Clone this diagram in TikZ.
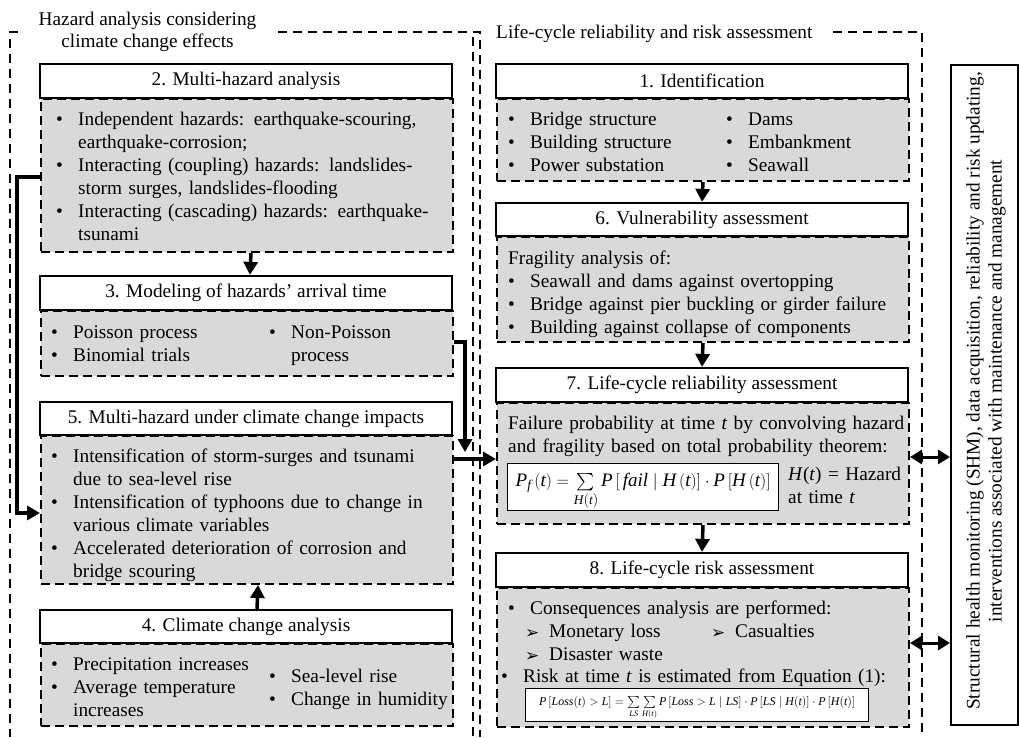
\documentclass[tikz,border=0pt]{standalone}
\usepackage{amsmath}
\usepackage{fontspec}
\setmainfont{Liberation Serif}
\newfontfamily\hzsym{DejaVu Sans}
\usetikzlibrary{arrows.meta,calc}
\definecolor{panelgrey}{RGB}{217,217,217}
% list helpers: bullet box, arrow-bullet box, hanging indent
\newcommand{\hzbul}[1][22pt]{\makebox[#1][l]{•}}
\newcommand{\hzarr}[1][24pt]{\makebox[#1][l]{\raisebox{-1pt}{\hzsym\fontsize{17}{17}\selectfont ➢}}}
\newcommand{\hzgap}[1]{\hspace*{#1}}
% italic variables set in the text face
\newcommand{\hv}[1]{\textit{#1}}

\tikzset{
  txt/.style={font=\fontsize{19.3}{23}\selectfont},
  region/.style={line width=2pt, dash pattern=on 9pt off 6pt},
  panel/.style={draw, fill=panelgrey, line width=2pt, dash pattern=on 9pt off 5pt,
                minimum width=412pt, anchor=north west, inner sep=0pt},
  header/.style={draw, fill=white, line width=2.2pt, minimum width=412pt,
                 minimum height=34pt, inner sep=0pt, txt},
  body/.style={txt, anchor=base west, inner sep=0pt, text width=400pt, align=left},
  flow/.style={line width=3.5pt, -{Triangle[length=13pt,width=14pt]}},
  twoway/.style={line width=3pt, {Triangle[length=12pt,width=14pt]}-{Triangle[length=12pt,width=14pt]}},
  eqbox/.style={draw, fill=white, line width=1.4pt, inner sep=0pt, anchor=north west},
}

\begin{document}
\begin{tikzpicture}[x=1pt,y=-1pt]
\useasboundingbox (0,0) rectangle (1019,737);

% dashed frames of the two stages
\draw[region] (18,32) -- (10,32) -- (10,737);
\draw[region] (278,32) -- (480,32) -- (480,737);
\draw[region] (473,37) -- (473,737);
\draw[region] (833,32) -- (922,32) -- (922,737);
\node[txt, anchor=base, inner sep=0pt] (lt1) at (147.5,25) {Hazard analysis considering};
\node[txt, anchor=base, inner sep=0pt] (lt2) at (147.5,47) {climate change effects};
\node[txt, anchor=base west, inner sep=0pt] (rt) at (496,38) {Life-cycle reliability and risk assessment};

% grey content panels
\node[panel, minimum height=153pt] (c2) at (40,98) {};
\node[panel, minimum height=65pt]  (c3) at (40,310) {};
\node[panel, minimum height=148pt] (c5) at (40,435) {};
\node[panel, minimum height=82pt]  (c4) at (40,643) {};
\node[panel, minimum height=82pt]  (c1) at (496,98) {};
\node[panel, minimum height=105pt] (c6) at (496,236) {};
\node[panel, minimum height=121pt] (c7) at (496,402) {};
\node[panel, minimum height=139pt] (c8) at (496,587) {};

% step headers
\node[header] (h2) at (246,81)    {2. Multi-hazard analysis};
\node[header] (h3) at (246,293)   {3. Modeling of hazards’ arrival time};
\node[header, minimum height=33pt] (h5) at (246,418.5) {5. Multi-hazard under climate change impacts};
\node[header, minimum height=33pt] (h4) at (246,626.5) {4. Climate change analysis};
\node[header] (h1) at (702,81)    {1. Identification};
\node[header, minimum height=33pt] (h6) at (702,219.5) {6. Vulnerability assessment};
\node[header] (h7) at (702,385)   {7. Life-cycle reliability assessment};
\node[header] (h8) at (702,570)   {8. Life-cycle risk assessment};

% panel contents
\node[body] (t2) at (56,125) {\hzbul Independent hazards: earthquake-scouring,\\
  \hzgap{22pt}earthquake-corrosion;\\
  \hzbul Interacting (coupling) hazards: landslides-\\
  \hzgap{22pt}storm surges, landslides-flooding\\
  \hzbul Interacting (cascading) hazards: earthquake-\\
  \hzgap{22pt}tsunami};

\node[body, text width=200pt] (t3a) at (51,338) {\hzbul Poisson process\\ \hzbul Binomial trials};
\node[body, text width=180pt] (t3b) at (269,338) {\hzbul Non-Poisson\\ \hzgap{22pt}process};

\node[body] (t5) at (51,462) {\hzbul Intensification of storm-surges and tsunami\\
  \hzgap{22pt}due to sea-level rise\\
  \hzbul Intensification of typhoons due to change in\\
  \hzgap{22pt}various climate variables\\
  \hzbul Accelerated deterioration of corrosion and\\
  \hzgap{22pt}bridge scouring};

\node[body, text width=210pt] (t4a) at (51,670) {\hzbul Precipitation increases\\
  \hzbul Average temperature\\ \hzgap{22pt}increases};
\node[body, text width=180pt] (t4b) at (269,682) {\hzbul Sea-level rise\\ \hzbul Change in humidity};

\node[body, text width=210pt] (t1a) at (508,125) {\hzbul Bridge structure\\ \hzbul Building structure\\ \hzbul Power substation};
\node[body, text width=170pt] (t1b) at (726,125) {\hzbul Dams\\ \hzbul Embankment\\ \hzbul Seawall};

\node[body] (t6) at (508,264) {Fragility analysis of:\\
  \hzbul Seawall and dams against overtopping\\
  \hzbul Bridge against pier buckling or girder failure\\
  \hzbul Building against collapse of components};

\node[body] (t7) at (508,429) {Failure probability at time \textit{t} by convolving hazard\\
  and fragility based on total probability theorem:};
\node[eqbox, minimum width=271pt, minimum height=47pt] (eq1) at (507,463) {};
\node[inner sep=0pt, font=\fontsize{19}{23}\selectfont] (eq1t) at ([yshift=-4pt]eq1.center)
  {$\hv{P}_{\hv{f}}\left(\hv{t}\right)=\sum\limits_{\hv{H}(\hv{t})}\hv{P}\left[\,\hv{fail}\mid \hv{H}\left(\hv{t}\right)\right]\cdot \hv{P}\left[\hv{H}\left(\hv{t}\right)\right]$};
\node[body, text width=120pt] (t7h) at (788,480) {\textit{H}(\textit{t}) = Hazard\\ at time \textit{t}};

\node[body] (t8) at (508,614) {\hzbul Consequences analysis are performed:\\
  \hzgap{17pt}\hzarr\makebox[162pt][l]{Monetary loss}\hzarr Casualties\\
  \hzgap{17pt}\hzarr Disaster waste};
\node[body] (t8r) at (501,682) {\hzbul Risk at time \textit{t} is estimated from Equation (1):};
\node[eqbox, minimum width=343pt, minimum height=33pt] (eq2) at (525,688) {};
\node[inner sep=0pt, font=\fontsize{11.9}{14}\selectfont] (eq2t) at ([yshift=-3pt]eq2.center)
  {$\hv{P}\left[\hv{Loss}(\hv{t})>\hv{L}\right]=\sum\limits_{\hv{LS}}\sum\limits_{\hv{H}(\hv{t})}\hv{P}\left[\hv{Loss}>\hv{L}\mid \hv{LS}\right]\cdot \hv{P}\left[\hv{LS}\mid \hv{H}(\hv{t})\right]\cdot \hv{P}\left[\hv{H}(\hv{t})\right]$};

% monitoring and management box
\node[draw, fill=white, line width=2pt, minimum width=67pt, minimum height=660pt, inner sep=0pt] (shm) at (984.5,395) {};
\node[rotate=90, align=center, inner sep=0pt, font=\fontsize{19.3}{22}\selectfont] (shmt) at (986,391)
  {Structural health monitoring (SHM), data acquisition, reliability and risk updating,\\
   interventions associated with maintenance and management};

% flow between steps
\draw[flow] ([xshift=4pt]c2.south) -- ([xshift=4pt]h3.north);
\draw[flow] ([xshift=11pt]h4.north) -- ([xshift=11pt]c5.south);
\draw[flow] (c1.south) -- (h6.north);
\draw[flow] (c6.south) -- (h7.north);
\draw[flow] (c7.south) -- (h8.north);

\coordinate (fbA) at (17,177);
\coordinate (fbB) at (17,513);
\draw[flow, line join=miter] (c2.west |- fbA) -- (fbA) -- (fbB) -- (c5.west |- fbB);

\coordinate (p3) at (465,342);
\coordinate (p3end) at (465,452);
\draw[flow, line join=miter] (c3.east |- p3) -- (p3) -- (p3end);

\coordinate (r5) at (0,459);
\draw[flow] (c5.east |- r5) -- (c7.west |- r5);

\coordinate (d7) at (0,457);
\coordinate (d8) at (0,643);
\draw[twoway] (c7.east |- d7) -- (shm.west |- d7);
\draw[twoway] (c8.east |- d8) -- (shm.west |- d8);
\end{tikzpicture}
\end{document}
